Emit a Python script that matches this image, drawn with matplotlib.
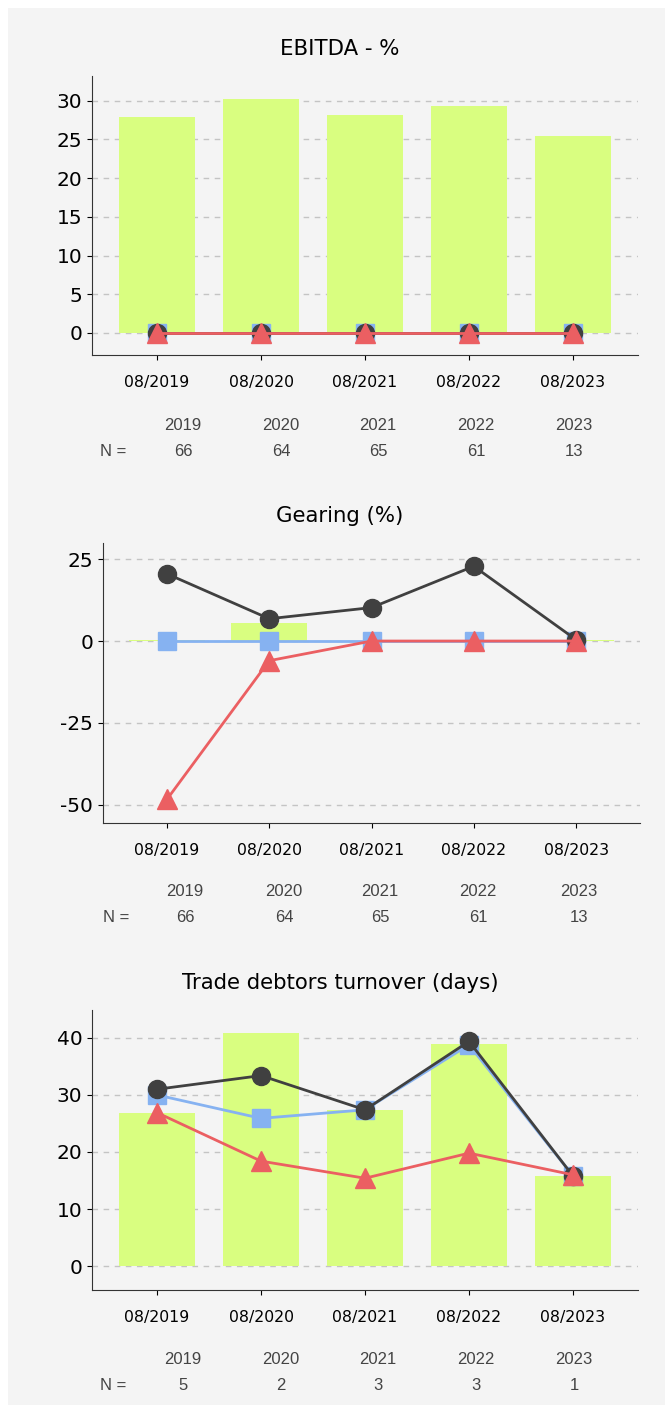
import matplotlib
matplotlib.use("Agg")
import matplotlib.pyplot as plt
from matplotlib.patches import Rectangle

periods = ["08/2019", "08/2020", "08/2021", "08/2022", "08/2023"]
years = ["2019", "2020", "2021", "2022", "2023"]

# EBITDA - %
ebitda_bar = [27.9, 30.2, 28.2, 29.3, 25.4]
ebitda_circ = [0, 0, 0, 0, 0]
ebitda_sq = [0, 0, 0, 0, 0]
ebitda_tri = [0, 0, 0, 0, 0]
ebitda_n = [66, 64, 65, 61, 13]

# Gearing (%)
gear_bar = [0.3, 5.5, 0.1, 0.2, 0.3]
gear_circ = [20.5, 6.8, 10.2, 22.8, 0.4]
gear_sq = [0, 0, 0, 0, 0]
gear_tri = [-48.3, -6.0, 0, 0, 0]
gear_n = [66, 64, 65, 61, 13]

# Trade debtors turnover (days)
debt_bar = [26.9, 40.9, 27.4, 39.0, 15.8]
debt_circ = [31.0, 33.4, 27.4, 39.4, 15.8]
debt_sq = [30.0, 25.9, 27.4, 38.8, 15.8]
debt_tri = [26.9, 18.4, 15.4, 19.8, 16.0]
debt_n = [5, 2, 3, 3, 1]

W, H = 665, 1405
BG = "#f4f4f4"
LIME = "#d9fe80"
DARK = "#404040"
BLUE = "#86b2f1"
RED = "#eb5f62"

fig = plt.figure(figsize=(W / 100, H / 100), dpi=100, facecolor="white")
fig.patches.append(Rectangle((8 / W, 0), 1, 1 - 8 / H, transform=fig.transFigure,
                             facecolor=BG, edgecolor="none", zorder=-10))


def px_axes(left, right, top, bottom):
    return fig.add_axes([left / W, 1 - bottom / H, (right - left) / W, (bottom - top) / H])


def panel(ax, title, title_y, bars, circ, sq, tri, ylim, yticks, yticklabels):
    x = list(range(len(periods)))
    ax.set_facecolor(BG)
    ax.bar(x, bars, width=0.74, color=LIME, zorder=1)
    ax.plot(x, sq, color=BLUE, marker="s", markersize=13.5, linewidth=2, zorder=3)
    ax.plot(x, circ, color=DARK, marker="o", markersize=13, linewidth=2, zorder=4)
    ax.plot(x, tri, color=RED, marker="^", markersize=14, linewidth=2, zorder=5)
    ax.set_xlim(-0.625, 4.625)
    ax.set_ylim(*ylim)
    ax.set_yticks(yticks)
    ax.set_yticklabels(yticklabels, fontsize=14.5)
    ax.set_xticks(x)
    ax.set_xticklabels(periods, fontsize=11.3)
    ax.tick_params(axis="x", pad=11)
    ax.grid(axis="y", color="#c4c4c4", linestyle=(0, (4, 4)), linewidth=1, zorder=0)
    ax.set_axisbelow(True)
    for s in ["top", "right"]:
        ax.spines[s].set_visible(False)
    for s in ["left", "bottom"]:
        ax.spines[s].set_color("#333333")
    fig.text(340 / W, 1 - title_y / H, title, ha="center", va="center", fontsize=15.3)


def table(ycenter_years, ycenter_n, xs, nx, counts):
    for xx, yr, c in zip(xs, years, counts):
        fig.text(xx / W, 1 - ycenter_years / H, yr, ha="center", va="center",
                 fontsize=12, color="#444444", family="Liberation Sans")
        fig.text(xx / W, 1 - ycenter_n / H, str(c), ha="center", va="center",
                 fontsize=12, color="#444444", family="Liberation Sans")
    fig.text(nx / W, 1 - ycenter_n / H, "N =", ha="center", va="center",
             fontsize=12, color="#444444", family="Liberation Sans")


ax1 = px_axes(92, 638, 76, 355)
panel(ax1, "EBITDA - %", 49, ebitda_bar, ebitda_circ, ebitda_sq, ebitda_tri,
      (-2.85, 33.2), [0, 5, 10, 15, 20, 25, 30], ["0", "5", "10", "15", "20", "25", "30"])
table(425, 451, [183, 281, 378, 476, 574], 113, ebitda_n)

ax2 = px_axes(103, 640, 543, 823)
panel(ax2, "Gearing (%)", 516, gear_bar, gear_circ, gear_sq, gear_tri,
      (-55.5, 29.9), [25, 0, -25, -50], ["25", "0", "-25", "-50"])
table(891, 918, [185, 284, 380, 478, 579], 116, gear_n)

ax3 = px_axes(92, 638, 1010, 1290)
panel(ax3, "Trade debtors turnover (days)", 983, debt_bar, debt_circ, debt_sq, debt_tri,
      (-4.2, 44.9), [0, 10, 20, 30, 40], ["0", "10", "20", "30", "40"])
table(1359, 1386, [183, 281, 378, 476, 574], 113, debt_n)

fig.savefig("out.png", dpi=100, facecolor="white")
